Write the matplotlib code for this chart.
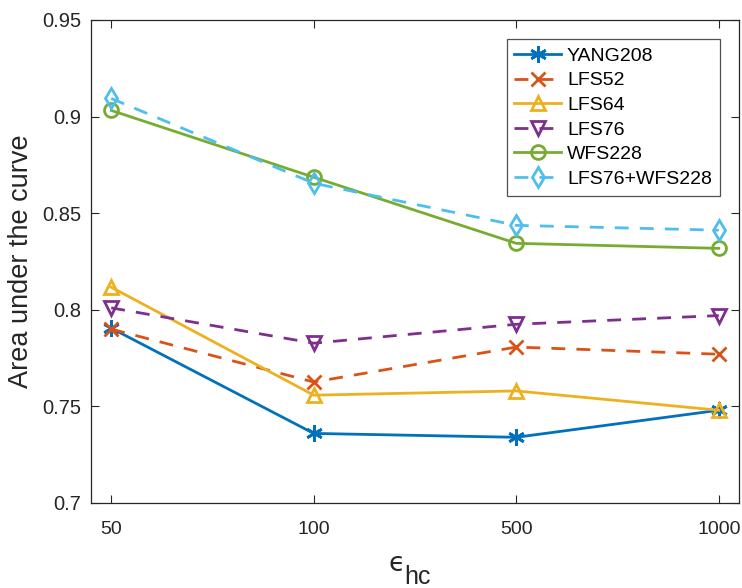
import matplotlib
matplotlib.use("Agg")
import matplotlib.pyplot as plt
import numpy as np

plt.rcParams['font.family'] = ['Liberation Sans', 'DejaVu Sans']

x_labels = ['50', '100', '500', '1000']

yang208 = [0.7905, 0.736, 0.734, 0.748]
lfs52 = [0.790, 0.7626, 0.7807, 0.777]
lfs64 = [0.8117, 0.7558, 0.758, 0.748]
lfs76 = [0.801, 0.7827, 0.7925, 0.797]
wfs228 = [0.9032, 0.8686, 0.8344, 0.8318]
lfs76_wfs228 = [0.9094, 0.8655, 0.8437, 0.8412]

# MATLAB-like asterisk instead of matplotlib's star
asterisk = (6, 2, 0)

series = [
    ('YANG208', yang208, '#0072BD', '-', asterisk, 12),
    ('LFS52', lfs52, '#D95319', '--', 'x', 10),
    ('LFS64', lfs64, '#EDB120', '-', '^', 10),
    ('LFS76', lfs76, '#7E2F8E', '--', 'v', 10),
    ('WFS228', wfs228, '#77AC30', '-', 'o', 10),
    ('LFS76+WFS228', lfs76_wfs228, '#4DBEEE', '--', 'd', 10),
]

W, H = 742, 588
fig = plt.figure(figsize=(W / 100, H / 100), dpi=100)
ax = fig.add_axes([0.1226, 0.1446, 0.8734, 0.8214])

xs = np.arange(1, len(x_labels) + 1)
for name, vals, color, ls, mk, ms in series:
    ax.plot(xs, vals, linestyle=ls, color=color, marker=mk, markersize=ms,
            markerfacecolor='none', markeredgewidth=2, linewidth=2,
            dashes=(5, 4) if ls == '--' else (None, None), label=name)

ax.set_xlim(0.9, 4.1)
ax.set_ylim(0.7, 0.95)
ax.set_xticks(xs)
ax.set_xticklabels(x_labels, fontsize=14)
ax.set_yticks([0.7, 0.75, 0.8, 0.85, 0.9, 0.95])
ax.set_yticklabels(['0.7', '0.75', '0.8', '0.85', '0.9', '0.95'], fontsize=14.5)
ax.tick_params(direction='in', length=6, top=True, right=True,
               colors='#262626')
ax.tick_params(axis='x', pad=13)
ax.tick_params(axis='y', pad=7)
for s in ax.spines.values():
    s.set_color('#262626')
    s.set_linewidth(0.9)

ax.set_ylabel('Area under the curve', fontsize=19.5, color='#262626', labelpad=6)

# x label: lunate epsilon with a large MATLAB-style subscript
fig.text(389 / W, 1 - 571 / H, '\u03f5', fontsize=19, color='#262626',
         family=['DejaVu Sans'], ha='left', va='baseline')
fig.text(404 / W, 1 - 584 / H, 'hc', fontsize=18, color='#262626',
         ha='left', va='baseline')

leg = ax.legend(loc='upper right', fontsize=14, frameon=True, fancybox=False,
                edgecolor='#262626', handlelength=2.4, borderpad=0.4,
                labelspacing=0.36, handletextpad=0.3, borderaxespad=1.0)
leg.get_frame().set_linewidth(0.9)

fig.savefig('out.png', dpi=100)
